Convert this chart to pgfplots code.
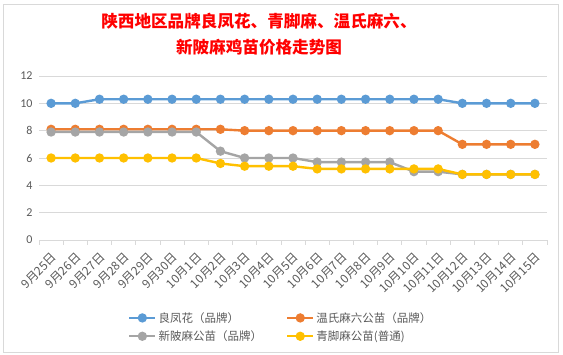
\documentclass[border=0pt]{standalone}
\usepackage{pgfplots}
\pgfplotsset{compat=1.18}
\usepackage{pgfplotstable}
\usepackage{fontspec}
\setmainfont{Carlito}
\newfontfamily\cjk{Noto Sans CJK SC}
\definecolor{cblue}{HTML}{5B9BD5}
\definecolor{corange}{HTML}{ED7D31}
\definecolor{cgray}{HTML}{A5A5A5}
\definecolor{cyellow}{HTML}{FFC000}
\definecolor{tickgray}{HTML}{595959}
\definecolor{gridgray}{HTML}{D9D9D9}
\pgfplotstableread{
x a b c d
0 10 8.1 7.9 6
1 10 8.1 7.9 6
2 10.3 8.1 7.9 6
3 10.3 8.1 7.9 6
4 10.3 8.1 7.9 6
5 10.3 8.1 7.9 6
6 10.3 8.1 7.9 6
7 10.3 8.1 6.5 5.6
8 10.3 8.0 6.0 5.4
9 10.3 8.0 6.0 5.4
10 10.3 8.0 6.0 5.4
11 10.3 8.0 5.7 5.2
12 10.3 8.0 5.7 5.2
13 10.3 8.0 5.7 5.2
14 10.3 8.0 5.7 5.2
15 10.3 8.0 5.0 5.2
16 10.3 8.0 5.0 5.2
17 10 7.0 4.8 4.8
18 10 7.0 4.8 4.8
19 10 7.0 4.8 4.8
20 10 7.0 4.8 4.8
}\datatable
\begin{document}
\begin{tikzpicture}
\useasboundingbox (0,0) rectangle (563pt,355pt);
\draw[gridgray, line width=0.8pt] (3pt,3pt) rectangle (558pt,351pt);
\node[align=center, text=red, font=\cjk\bfseries\fontsize{16.6}{25.5}\selectfont] at (259pt,321pt) {陕西地区品牌良凤花、青脚麻、温氏麻六、\\新陂麻鸡苗价格走势图};
\begin{axis}[
  at={(39pt,115pt)}, anchor=south west,
  scale only axis, width=508pt, height=164pt,
  xmin=-0.5, xmax=20.5, ymin=0, ymax=12,
  ytick={0,2,...,12},
  xtick={0,...,20},
  xticklabels={9月25日,9月26日,9月27日,9月28日,9月29日,9月30日,10月1日,10月2日,10月3日,10月4日,10月5日,10月6日,10月7日,10月8日,10月9日,10月10日,10月11日,10月12日,10月13日,10月14日,10月15日},
  minor xtick={-0.5,0.5,...,20.5},
  major tick length=0pt, minor tick length=5pt,
  tick align=outside,
  minor tick style={color=gridgray, line width=0.8pt},
  axis x line*=bottom, axis y line*=left,
  x axis line style={color=gridgray, line width=0.8pt, -},
  y axis line style={draw=none},
  ymajorgrids, major grid style={color=gridgray, line width=0.8pt},
  /pgf/number format/assume math mode=true,
  yticklabel style={font=\fontsize{12}{12}\selectfont, text=tickgray, xshift=-3pt},
  xticklabel style={xshift=3.5pt, yshift=-15pt, rotate=45, anchor=east, inner sep=0pt, font=\cjk\fontsize{12}{12}\selectfont, text=tickgray},
  every axis plot/.append style={line width=2.4pt, mark=*, mark size=3.4pt, mark options={solid}},
  legend columns=2,
  legend cell align=left,
  legend style={draw=none, fill=none, at={(0.476,-0.415)}, anchor=north, font=\cjk\fontsize{11.5}{13}\selectfont, text=tickgray, /tikz/every even column/.append style={column sep=22pt}, row sep=3pt},
  legend image code/.code={\draw[mark repeat=2,mark phase=2,#1] plot coordinates {(0pt,0pt) (13pt,0pt) (26pt,0pt)};},
]
\addplot[cblue] table[x=x,y=a]{\datatable};
\addlegendentry{良凤花（品牌）}
\addplot[corange] table[x=x,y=b]{\datatable};
\addlegendentry{温氏麻六公苗（品牌）}
\addplot[cgray] table[x=x,y=c]{\datatable};
\addlegendentry{新陂麻公苗（品牌）}
\addplot[cyellow] table[x=x,y=d]{\datatable};
\addlegendentry{青脚麻公苗(普通)}
\end{axis}
\end{tikzpicture}
\end{document}
